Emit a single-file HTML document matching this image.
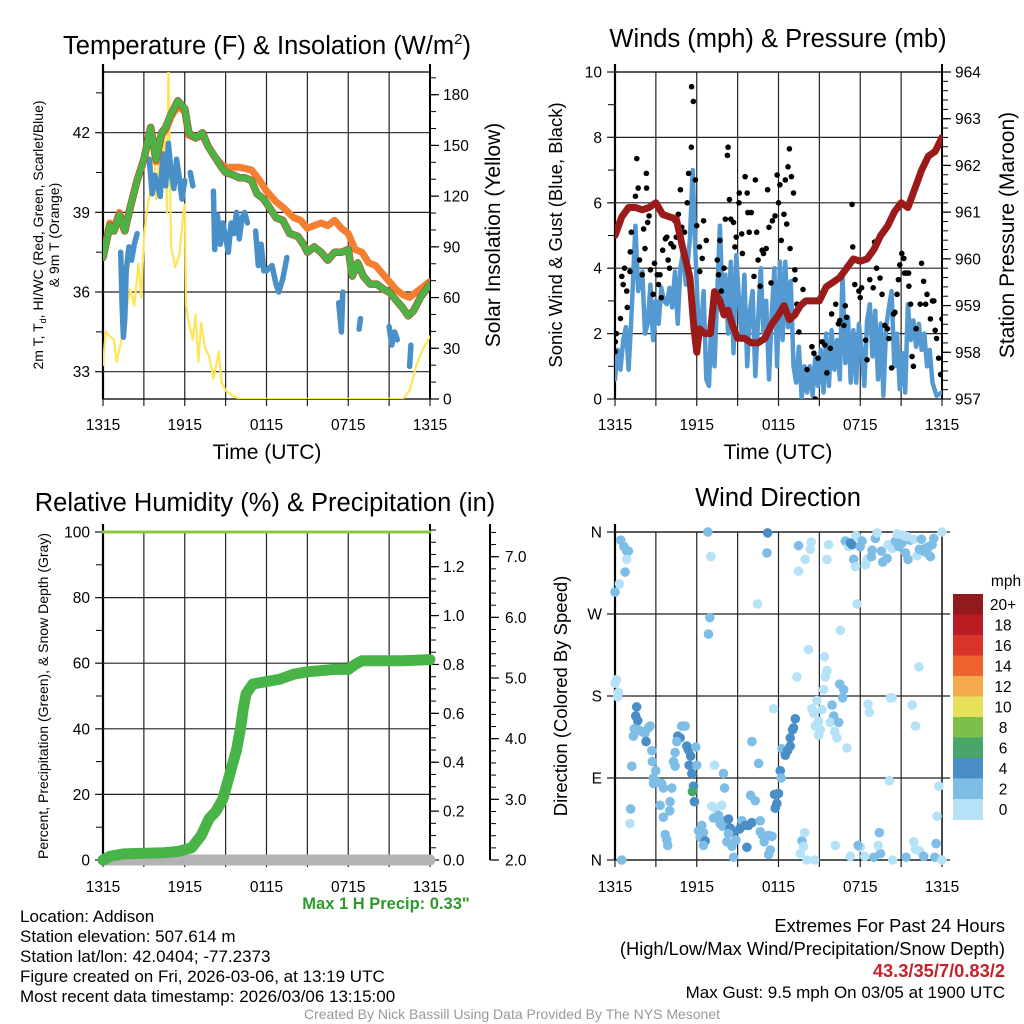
<!DOCTYPE html>
<html><head><meta charset="utf-8"><style>
html,body{margin:0;padding:0;background:#fff;}
svg{display:block;font-family:"Liberation Sans",sans-serif;}
</style></head><body>
<svg id="fig" width="1024" height="1024" viewBox="0 0 1024 1024">
<defs>
<clipPath id="c1"><rect x="103" y="72" width="327" height="327"/></clipPath>
<clipPath id="c2"><rect x="615" y="72" width="327" height="327"/></clipPath>
<clipPath id="c3"><rect x="90" y="520" width="360" height="355"/></clipPath>
<clipPath id="c4"><rect x="605" y="525" width="347" height="342"/></clipPath>
</defs>
<g id="layer"></g>
<text x="267" y="54" font-size="25.5" text-anchor="middle">Temperature (F) &amp; Insolation (W/m<tspan dy="-10" font-size="15">2</tspan><tspan dy="10">)</tspan></text>
<text x="778" y="47" font-size="25.5" text-anchor="middle">Winds (mph) &amp; Pressure (mb)</text>
<text x="265" y="511" font-size="25.5" text-anchor="middle">Relative Humidity (%) &amp; Precipitation (in)</text>
<text x="778" y="506" font-size="25.5" text-anchor="middle">Wind Direction</text>
<text transform="translate(43,235) rotate(-90)" font-size="14" text-anchor="middle">2m T, T<tspan font-size="9" dy="3">d</tspan><tspan dy="-3">, HI/WC (Red, Green, Scarlet/Blue)</tspan></text>
<text transform="translate(59,235) rotate(-90)" font-size="14" text-anchor="middle">&amp; 9m T (Orange)</text>
<text transform="translate(500,235) rotate(-90)" font-size="21" text-anchor="middle">Solar Insolation (Yellow)</text>
<text transform="translate(562,235) rotate(-90)" font-size="18.5" text-anchor="middle">Sonic Wind &amp; Gust (Blue, Black)</text>
<text transform="translate(1014,235) rotate(-90)" font-size="21" text-anchor="middle">Station Pressure (Maroon)</text>
<text transform="translate(48,696) rotate(-90)" font-size="14" text-anchor="middle">Percent, Precipitation (Green), &amp; Snow Depth (Gray)</text>
<text transform="translate(567,696) rotate(-90)" font-size="18.5" text-anchor="middle">Direction (Colored By Speed)</text>
<text x="267" y="459" font-size="21" text-anchor="middle">Time (UTC)</text>
<text x="778" y="459" font-size="21" text-anchor="middle">Time (UTC)</text>
<text x="386" y="909" font-size="16.5" font-weight="bold" fill="#2b9a2b" text-anchor="middle">Max 1 H Precip: 0.33"</text>
<g font-size="17">
<text x="20" y="922">Location: Addison</text>
<text x="20" y="942">Station elevation: 507.614 m</text>
<text x="20" y="962">Station lat/lon: 42.0404; -77.2373</text>
<text x="20" y="982">Figure created on Fri, 2026-03-06, at 13:19 UTC</text>
<text x="20" y="1002">Most recent data timestamp: 2026/03/06 13:15:00</text>
</g>
<g text-anchor="end">
<text x="1005" y="932" font-size="18.3">Extremes For Past 24 Hours</text>
<text x="1005" y="955" font-size="18.3">(High/Low/Max Wind/Precipitation/Snow Depth)</text>
<text x="1005" y="977" font-size="18.3" fill="#c8202a" font-weight="bold">43.3/35/7/0.83/2</text>
<text x="1005" y="998" font-size="17">Max Gust: 9.5 mph On 03/05 at 1900 UTC</text>
</g>
<text x="512" y="1019" font-size="14" fill="#999" text-anchor="middle">Created By Nick Bassill Using Data Provided By The NYS Mesonet</text>
</svg>
<script>
// ---------- data ----------
const tempTimes=[0,0.5,0.8,1.2,1.6,2.0,2.5,3.0,3.5,3.9,4.3,4.6,5.0,5.5,6.0,6.3,6.8,7.3,7.7,8.2,8.7,9.0,9.6,10,10.4,10.9,11.3,11.8,12.2,12.7,13.2,13.7,14.3,14.7,15.0,15.5,16,16.5,17.0,17.5,18.0,18.3,18.7,19.1,19.6,20.1,20.6,21,21.5,22.0,22.4,22.8,23.3,24];
const temp2m=[37.3,38.5,38.3,38.9,38.3,39.2,40.2,41.0,42.2,41.0,42.0,42.2,42.7,43.2,42.9,42.0,41.8,42.0,41.5,41.1,40.7,40.5,40.4,40.3,40.3,40.2,39.7,39.5,39.2,38.8,38.7,38.2,38.1,37.8,37.5,37.7,37.5,37.2,37.5,37.5,37.6,36.6,37.1,36.6,36.3,36.3,36.1,36.0,35.7,35.4,35.1,35.3,35.8,36.3];
const temp9mTimes=[0,0.5,0.8,1.2,1.6,2.0,2.5,3.0,3.5,3.9,4.3,4.6,5.0,5.5,6.0,6.3,6.8,7.3,7.7,8.2,8.7,9,10,10.9,11.5,12,12.7,13.2,14,14.5,15,15.5,16,16.5,17.0,17.5,18.0,18.5,19,19.5,20.0,20.5,21,21.5,22,22.5,23,24];
const temp9m=[37.4,38.6,38.4,39.0,38.4,39.2,40.2,41.0,42.1,40.9,41.9,42.1,42.6,43.0,42.8,41.9,41.8,41.9,41.5,41.1,40.8,40.7,40.7,40.6,40.2,39.8,39.4,39.2,38.8,38.7,38.4,38.5,38.6,38.5,38.7,38.4,38.2,37.6,37.5,37.1,37.0,36.7,36.4,36.1,35.9,35.8,36.0,36.4];
const dewTimes=[1.3,1.4,1.5,1.6,1.7,1.9,2.1,2.3,2.5,null,3.4,3.6,3.8,4.0,4.2,4.4,4.6,4.8,5.0,5.2,5.4,5.6,5.8,6.0,null,6.4,6.6,null,8.1,8.2,8.4,8.6,8.8,9.2,9.4,9.6,9.8,10.0,10.2,10.4,10.6,null,11.2,11.4,11.6,11.8,12.0,12.2,12.4,12.7,12.9,13.2,13.5,null,17.3,17.5,17.6,null,18.8,18.9,null,21.0,21.2,21.4,21.6,null,22.5,22.6];
const dewValues=[37.5,35.5,34.3,35,36.8,37.7,37.2,37.8,38.2,null,41.0,39.7,40.4,40.0,39.6,41.2,40.0,41.6,40.5,39.9,41.0,40.3,39.5,40.2,null,40.5,40.0,null,39.8,37.6,38.9,37.8,38.6,37.5,38.6,38.2,39.0,38.0,38.8,39.0,38.6,null,38.3,37.0,37.8,36.8,36.8,36.9,37.0,36.3,36.0,36.5,37.3,null,35.6,34.5,36.0,null,34.6,35.0,null,34.7,34.0,34.5,34.2,null,33.2,34.0];
const solarTimes=[0,0.2,0.5,0.8,1.0,1.3,1.6,2.0,2.3,2.6,2.8,3.0,3.2,3.5,3.7,3.9,4.1,4.3,4.5,4.7,4.8,5.0,5.3,5.6,5.9,6.0,6.1,6.3,6.6,6.8,7.0,7.2,7.5,7.8,8.1,8.5,8.7,9.0,9.5,10,22,22.5,23,23.5,24];
const solarValues=[20,40,37,35,22,33,47,65,55,80,60,95,110,125,160,118,140,120,160,110,200,90,78,85,110,115,55,45,35,50,22,45,30,25,12,28,10,5,2,0,0,5,20,30,37];
const tempTicks=[33,36,39,42];
const solarTicks=[0,30,60,90,120,150,180];
const timeTickLabels=["1315","1915","0115","0715","1315"];

const pressTimes=[0,0.5,1.0,1.5,2.0,2.5,3.0,3.5,4.0,4.5,5.0,5.5,5.8,6.0,6.2,6.6,7.0,7.3,7.7,8.0,8.3,8.6,9.0,9.5,10,10.5,11.0,11.5,12.0,12.4,12.8,13.2,13.6,14.0,14.5,15.0,15.5,16.0,16.5,17.0,17.5,18,18.5,19.0,19.5,20.0,20.5,21.0,21.5,22.0,22.5,23.0,23.5,24];
const pressValues=[960.5,960.9,961.1,961.1,961.05,961.1,961.2,960.95,960.9,960.85,960.2,959.6,958.5,958.0,958.5,958.4,958.4,959.3,959.1,958.8,958.9,958.6,958.3,958.3,958.2,958.2,958.3,958.6,958.8,959.0,958.7,958.8,959.0,959.1,959.1,959.1,959.4,959.5,959.6,959.8,960.0,959.95,960.0,960.2,960.5,960.7,961.0,961.2,961.1,961.5,961.9,962.2,962.3,962.6];
const windTimes=[0,0.2,0.4,0.6,0.8,1.0,1.2,1.5,1.7,2.0,2.2,2.4,2.6,2.8,3.0,3.2,3.4,3.6,3.8,4.0,4.2,4.4,4.6,4.8,5.0,5.2,5.5,5.7,5.9,6.1,6.3,6.5,6.7,6.9,7.1,7.3,7.5,7.7,7.9,8.1,8.3,8.5,8.7,8.9,9.1,9.3,9.5,9.7,9.9,10.1,10.3,10.5,10.7,10.9,11.1,11.3,11.5,11.7,11.9,12.1,12.3,12.5,12.7,12.9,13.1,13.3,13.5,13.7,13.9,14.1,14.3,14.5,14.7,14.9,15.1,15.3,15.5,15.7,15.9,16.1,16.3,16.5,16.7,16.9,17.1,17.3,17.5,17.7,17.9,18.1,18.3,18.5,18.7,18.9,19.1,19.3,19.5,19.7,19.9,20.1,20.3,20.5,20.7,20.9,21.1,21.3,21.5,21.7,21.9,22.1,22.3,22.5,22.7,22.9,23.1,23.3,23.6,24];
const windValues=[0.6,1.5,0.9,1.8,2.2,0.9,2.5,5.3,3.3,3.9,2.0,2.3,3.5,1.8,3.0,2.3,3.4,3.0,2.9,3.4,2.8,3.9,2.3,4.0,4.5,3.5,4.9,7.0,4.5,2.5,2.0,3.3,0.6,0.4,2.8,1.0,3.2,5.3,3.0,3.8,2.0,4.2,1.4,4.4,3.0,2.0,3.8,1.0,2.7,3.3,0.7,2.4,4.0,2.0,3.0,0.6,2.6,4.0,1.0,4.2,1.8,4.2,2.2,3.6,1.0,0.5,1.6,0.0,1.0,0.2,1.0,0.1,1.3,0.4,1.5,0.2,2.0,0.4,2.1,0.9,1.8,0.6,3.8,1.1,2.5,0.5,2.1,0.5,2.3,1.5,0.4,2.4,2.9,1.3,2.7,0.6,2.3,0.1,2.2,2.8,3.3,1.0,2.0,0.3,1.4,0.2,2.9,1.8,2.4,1.6,2.3,1.5,2.0,1.0,1.5,0.5,0.1,0.2];
const gustTimes=[0,0.02,0.1,0.4,0.5,0.6,0.7,0.86,0.9,1.1,1.2,1.12,1.5,1.6,1.7,1.8,2.0,2.1,2.2,2.3,2.32,2.4,2.5,2.6,2.8,2.9,3.1,3.2,3.3,3.4,3.5,3.7,3.8,3.9,4.0,4.1,4.3,4.4,4.5,4.65,4.8,4.9,5.1,5.3,5.4,5.6,5.62,5.75,5.9,6.0,6.2,6.4,6.5,6.7,6.22,7.1,7.5,7.6,7.7,7.8,8.0,8.1,8.25,8.3,8.4,8.5,8.7,8.8,8.9,9.1,9.12,9.3,9.35,9.55,9.7,9.75,9.85,10.0,10.2,10.3,10.4,10.5,10.65,10.8,10.9,11.1,11.2,11.3,11.45,11.55,11.75,11.9,12.0,12.1,12.2,12.4,12.5,12.6,12.7,12.8,12.95,13.1,12.85,13.2,13.22,13.35,13.5,13.8,14.1,14.45,14.6,14.7,14.9,15.2,15.4,15.55,15.8,15.9,16.2,16.4,16.5,16.8,16.9,17.0,17.4,17.45,17.6,17.9,18.0,18.1,18.4,18.5,18.7,18.95,19.05,18.85,19.2,19.45,19.6,19.8,20.0,20.1,20.3,20.45,20.55,20.7,20.8,20.9,21.05,21.2,21.25,21.4,21.55,21.57,21.7,21.8,21.9,22.1,22.4,22.5,22.65,22.8,22.9,23.15,23.3,23.4,23.5,23.6,23.75,23.9,24.0];
const gustValues=[1.45,1.75,2.0,2.46,3.75,3.5,4.0,3.3,2.8,3.9,5.1,4.5,6.2,7.35,6.45,4.25,3.8,5.2,4.6,6.9,6.45,5.4,5.6,3.95,3.2,4.15,3.8,3.5,3.8,3.1,4.55,4.9,4.95,4.25,4.0,4.75,4.65,5.45,4.95,5.65,6.4,5.25,5.1,6.0,6.9,7.7,9.55,9.1,6.7,5.3,4.65,4.3,5.45,4.85,3.9,2.2,4.25,3.8,4.85,3.3,4.0,5.5,7.45,7.7,6.1,5.5,5.4,4.65,4.95,6.0,6.3,5.05,4.45,6.8,6.3,5.7,5.1,5.7,3.75,6.7,5.1,4.25,3.45,4.55,4.45,4.6,6.4,5.25,3.55,5.45,5.6,6.85,6.0,6.55,4.85,5.65,6.7,5.35,7.1,7.65,6.8,6.3,4.6,3.95,3.65,2.9,2.05,3.35,0.9,1.6,1.4,0.0,1.25,1.75,1.65,0.8,1.55,2.6,2.9,2.3,2.4,2.25,2.85,2.5,5.95,4.65,3.5,3.3,3.1,3.4,1.8,1.2,3.65,3.4,4.8,4.5,4.0,3.7,3.2,2.25,2.15,1.85,0.95,2.6,2.65,3.2,3.65,4.1,4.45,4.3,3.85,3.85,3.85,3.45,2.9,1.3,1.0,2.15,2.9,4.15,3.6,2.9,3.2,2.45,3.0,3.0,2.1,1.85,1.25,0.75,2.45];
const windTicks=[0,2,4,6,8,10];
const pressTicks=[957,958,959,960,961,962,963,964];

const precipTimes=[0,0.5,1.5,3,4.5,5.5,6.5,7.2,7.8,8.3,8.8,9.3,9.8,10.1,10.3,10.5,11,12,13,14,15,16,17,18,18.5,19,20,22,24];
const precipValues=[0.0,0.015,0.025,0.028,0.03,0.035,0.05,0.1,0.17,0.2,0.25,0.35,0.45,0.54,0.62,0.68,0.72,0.73,0.74,0.76,0.77,0.775,0.78,0.78,0.8,0.815,0.815,0.815,0.82];
const rhTimes=[0,24];
const rhValues=[100,100];
const snowTimes=[0,24];
const snowValues=[2,2];
const rhTicks=[0,20,40,60,80,100];
const precipTicks=[0,0.2,0.4,0.6,0.8,1.0,1.2];
const snowTicks=[2,3,4,5,6,7];

const dirTimes=[0,0.32,0.42,0.66,0.86,0.98,0.86,0.74,0,0.12,0.25,0.2,0.49,1.59,1.52,1.67,1.42,1.72,1.35,1.96,2.2,2.45,2.57,2.28,2.7,1.23,2.74,2.99,2.82,2.82,3.19,3.43,3.55,4.17,3.31,4.04,4.02,3.55,1.15,1.1,3.68,3.8,3.87,4.41,4.29,4.41,4.61,4.78,4.53,4.9,5.15,5.27,5.39,5.56,5.44,5.64,5.93,6.0,5.76,5.68,5.83,6.81,7.03,6.96,6.86,6.13,6.37,6.49,6.25,6.62,6.49,7.1,7.35,7.84,7.23,7.6,7.72,7.91,8.09,8.33,8.45,8.7,8.21,8.58,8.87,8.7,8.33,9.31,9.56,9.8,10.05,10.66,9.14,9.68,10.66,10.83,11.27,11.52,10.95,11.4,11.27,7.3,7.96,8.04,10.05,10.54,9.95,10.29,11.2,11.15,10.46,11.64,12.25,12.5,12.67,12.86,12.86,13.03,13.1,13.23,12.13,12.2,11.71,12.0,11.88,11.76,13.47,13.47,13.96,14.33,14.4,13.35,14.2,15.38,15.56,15.43,15.31,14.82,14.45,14.58,15.19,14.75,14.94,14.7,14.94,15.07,15.93,16.05,15.8,16.42,16.12,16.29,16.49,16.78,16.71,17.03,16.54,15.68,15.56,17.76,13.72,13.84,13.6,14.09,14.65,13.92,16.17,16.9,17.15,17.27,17.4,17.52,17.64,17.69,18.13,18.0,18.38,18.5,18.82,18.87,19.11,19.23,19.55,19.65,19.97,20.04,20.34,20.58,20.7,20.83,21.07,21.19,21.32,21.51,21.68,21.44,21.93,22.17,22.34,22.49,22.66,22.79,22.91,23.15,23.28,23.4,23.03,24,18.57,18.67,20.21,20.34,21.81,22.05,22.3,20.14,23.77,23.64,23.57,23.47,24,21.93,22.05,22.34,22.66,21.36,20.38,19.48,19.4,19.31,18.99,18.33,18.0,17.84,17.27];
const dirDegs=[294,303,351,344,339,339,330,316,194,198,184,179,0,168,158,153,144,143,136,141,139,145,147,130,120,103,108,98,90,84,85,84,79,79,60,64,54,47,56,40,28,22,16,118,108,103,136,134,130,147,147,125,121,114,104,95,124,104,81,75,64,360,333,266,248,32,38,30,25,21,16,59,57,60,46,49,40,37,43,45,35,31,20,15,22,3,29,43,38,38,41,43,34,14,31,27,27,26,20,11,6,104,95,79,130,106,71,65,359,337,281,166,122,115,120,125,134,143,145,155,98,90,72,73,62,57,345,317,330,341,349,201,231,223,208,201,187,175,166,161,165,148,152,147,137,143,170,158,151,151,141,134,193,187,178,123,252,346,330,281,21,15,7,0,0,30,16,350,344,348,346,330,322,356,350,344,324,330,333,340,353,359,339,327,331,346,342,350,358,344,348,356,337,330,351,355,352,334,341,352,339,342,337,333,346,353,344,360,171,162,178,178,170,147,212,87,81,48,18,3,0,20,12,10,4,3,0,7,30,16,3,4,14,16,4];
const dirSpeeds=[3,1,3,3,3,3,1,3,1,1,1,1,3,5,5,5,3,3,3,3,3,3,3,5,3,3,3,3,3,3,3,3,3,3,3,3,3,3,3,1,3,3,3,3,3,3,5,5,3,3,3,5,5,5,5,5,3,3,5,7,5,3,1,3,3,3,3,3,3,5,3,1,1,1,3,3,3,3,3,5,5,5,3,3,3,3,3,3,5,5,5,3,5,5,3,3,3,3,3,3,3,1,3,3,3,3,3,3,5,3,1,1,3,5,5,5,5,5,5,5,5,3,5,5,5,5,3,1,1,1,1,1,1,1,1,1,1,1,1,1,1,1,1,1,1,1,3,3,1,3,1,1,3,3,3,1,1,1,1,1,3,1,1,1,1,1,1,3,1,5,5,3,1,1,3,3,1,1,3,3,3,1,3,3,3,1,1,3,1,3,3,1,3,3,3,1,1,1,3,3,3,3,3,3,3,3,3,1,1,1,1,1,1,1,1,1,1,1,3,3,1,1,1,1,3,3,1,3,3,1,3,1,1,3,1];
const dirTicks=[0,90,180,270,360];
const dirTickLabels=["N","E","S","W","N"];
const barLabels=["0","2","4","6","8","10","12","14","16","18","20+"];
const barColors=["#b6e2f8","#7dbde6","#4a8ec7","#4aa56a","#7cc04a","#e6e05a","#f6a94a","#ee6230","#d9332a","#bb1d25","#921a1c"];

// ---------- helpers ----------
const NS="http://www.w3.org/2000/svg";
const layer=document.getElementById('layer');
function mk(tag,attrs,parent){const e=document.createElementNS(NS,tag);for(const k in attrs)e.setAttribute(k,attrs[k]);(parent||layer).appendChild(e);return e;}
function lin(d0,d1,r0,r1){return v=>r0+(v-d0)/(d1-d0)*(r1-r0);}
function pathD(xs,ys,fx,fy){let d="",pen=false;for(let i=0;i<xs.length;i++){if(xs[i]===null||ys[i]===null){pen=false;continue;}d+=(pen?"L":"M")+fx(xs[i]).toFixed(1)+","+fy(ys[i]).toFixed(1);pen=true;}return d;}
function speedColor(s){if(s===undefined)s=1;let i=Math.min(10,Math.floor(s/2));return barColors[i];}
const TF=15.5;

function frame(x0,x1,y0,y1,name){
  const fx=lin(0,24,x0,x1);
  const g=mk('g',{});
  
  
  for(let h=0;h<=24;h+=3){
    const l=mk('line',{x1:fx(h),x2:fx(h),y1:y0,y2:y1+7,stroke:'#222','stroke-width':1.2},g);
    
    
  }
  const b=mk('rect',{x:x0,y:y0,width:x1-x0,height:y1-y0,fill:'none',stroke:'#000','stroke-width':1.3},g);
  
  
  const ax=mk('line',{x1:x0,x2:x0,y1:y0-8,y2:y1,stroke:'#000','stroke-width':2.2},g);
  
  
  return fx;
}
function xLabels(fx,y,name){
  for(let i=0;i<timeTickLabels.length;i++){
    const t=mk('text',{x:fx(i*6),y:y,'font-size':TF,'text-anchor':'middle'});
    t.textContent=timeTickLabels[i];
    
    
  }
}
function leftTicks(ticks,fy,x0,x1,minorStep,name,grid=true,fmt=v=>String(v)){
  const lo=ticks[0],hi=ticks[ticks.length-1];
  for(let v=lo-minorStep*3;v<=hi+minorStep*3+1e-9;v+=minorStep){
    const y=fy(v); if(y<66||y>400&&y<500||y>862) continue;
    const l=mk('line',{x1:x0-7,x2:x0,y1:y,y2:y,stroke:'#000','stroke-width':1});
    
    
  }
  ticks.forEach((v,i)=>{
    const y=fy(v);
    if(grid){const g=mk('line',{x1:x0-8,x2:x1,y1:y,y2:y,stroke:'#222','stroke-width':1.2});
    
    }
    const t=mk('text',{x:x0-13,y:y+5.5,'font-size':TF,'text-anchor':'end'});
    t.textContent=fmt(v,i);
    
    
  });
}
function rightAxis(ticks,fy,x,y0,y1,minorStep,name,fmt=v=>String(v),lx=13){
  const ax=mk('line',{x1:x,x2:x,y1:y0-8,y2:y1,stroke:'#000','stroke-width':2});
  
  
  const lo=ticks[0],hi=ticks[ticks.length-1];
  for(let v=lo;v<=hi+minorStep*10;v+=minorStep){
    const y=fy(v); if(y<y0-6) break;
    const l=mk('line',{x1:x,x2:x+6,y1:y,y2:y,stroke:'#000','stroke-width':1});
    
    
  }
  ticks.forEach(v=>{
    const y=fy(v);
    const l=mk('line',{x1:x,x2:x+9,y1:y,y2:y,stroke:'#000','stroke-width':1.2});
    
    
    const t=mk('text',{x:x+lx,y:y+5.5,'font-size':TF});
    t.textContent=fmt(v);
    
    
  });
}
function series(xs,ys,fx,fy,color,w,clip,name){
  const p=mk('path',{d:pathD(xs,ys,fx,fy),fill:'none',stroke:color,'stroke-width':w,'stroke-linejoin':'round','stroke-linecap':'round','clip-path':'url(#'+clip+')'});
  
  
  return p;
}

// ---------- panel 1: temperature ----------
const fx1=frame(103,430,72,399,'temperature');
const yT=lin(33,42,371.7,132.7), yS=lin(0,180,399,94.7);
leftTicks(tempTicks,yT,103,430,1.5,'temperature');
rightAxis(solarTicks,yS,430,72,399,10,'insolation');
xLabels(fx1,430,'temperature');
series(solarTimes,solarValues,fx1,yS,'#fde55a',2.2,'c1','solar-insolation-line');
series(dewTimes,dewValues,fx1,yT,'#4a90c8',5.5,'c1','dewpoint-line');
series(temp9mTimes,temp9m,fx1,yT,'#f47f30',7,'c1','temperature-9m-line');
series(tempTimes,temp2m,fx1,yT,'#d42a2a',7.5,'c1','temperature-2m-red-line');
series(tempTimes,temp2m,fx1,yT,'#4cb244',6.5,'c1','temperature-2m-line');

// ---------- panel 2: winds ----------
const fx2=frame(615,942,72,399,'winds');
const yW=lin(0,10,399,72), yP=lin(957,964,399,72);
leftTicks(windTicks,yW,615,942,1,'winds');
rightAxis(pressTicks,yP,942,72,399,0.2,'pressure');
xLabels(fx2,430,'winds');
series(windTimes,windValues,fx2,yW,'#5499d2',4.5,'c2','sonic-wind-line');
for(let i=0;i<gustTimes.length;i++){
  const c=mk('circle',{cx:fx2(gustTimes[i]),cy:yW(gustValues[i]),r:2.8,fill:'#000','clip-path':'url(#c2)'});
  
  
}
series(pressTimes,pressValues,fx2,yP,'#9b1b1b',7,'c2','pressure-line');

// ---------- panel 3: humidity & precip ----------
const fx3=frame(103,430,532,860,'humidity');
const yRH=lin(0,100,860,532), yPr=lin(0,1.2,860,566.7), ySn=lin(2,7,860,556.7);
leftTicks(rhTicks,yRH,103,430,10,'humidity');
rightAxis(precipTicks,yPr,430,532,860,0.05,'precip',v=>v.toFixed(1));
rightAxis(snowTicks,ySn,490,532,860,0.2,'snow',v=>v.toFixed(1),15);
xLabels(fx3,892,'humidity');
series(snowTimes,snowValues,fx3,ySn,'#b3b3b3',11,'c3','snow-depth-line');
series(rhTimes,rhValues,fx3,yRH,'#8cc63f',3,'c3','relative-humidity-line');
series(precipTimes,precipValues,fx3,yPr,'#48b448',11,'c3','precipitation-line');

// ---------- panel 4: wind direction ----------
const fx4=frame(615,942,532,860,'direction');
const yD=lin(0,360,860,532);
leftTicks(dirTicks,yD,615,950,1000,'direction',true,(v,i)=>dirTickLabels[i]);
xLabels(fx4,892,'direction');
for(let i=0;i<dirTimes.length;i++){
  const c=mk('circle',{cx:fx4(dirTimes[i]),cy:yD(dirDegs[i]),r:4.8,fill:speedColor(dirSpeeds[i]),'clip-path':'url(#c4)'});
  
  
}
// colorbar
const cbTop=594,cbH=20.5;
for(let i=0;i<barColors.length;i++){
  const k=barColors.length-1-i;
  const r=mk('rect',{x:953,y:cbTop+i*cbH,width:30,height:cbH+0.5,fill:barColors[k]});
  
  
  const t=mk('text',{x:1003,y:cbTop+i*cbH+cbH/2+5.5,'font-size':TF,'text-anchor':'middle'});
  t.textContent=barLabels[k];
  
  
}
const mph=mk('text',{x:1006,y:586,'font-size':TF,'text-anchor':'middle'});
mph.textContent='mph';


</script>
</body></html>
